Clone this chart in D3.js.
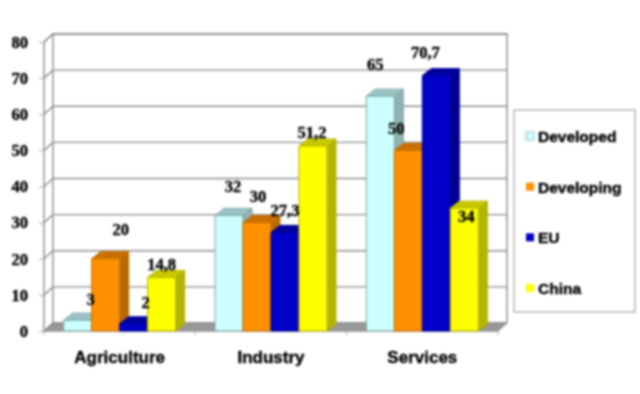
<!DOCTYPE html>
<html>
<head>
<meta charset="utf-8">
<script src="https://cdn.jsdelivr.net/npm/d3@7"></script>
<style>
    html, body { margin: 0; padding: 0; background: white; }
    svg { display: block; filter: blur(0.8px); }
    text { fill: #000; stroke: #000; stroke-width: 0.4px; }
</style>
</head>
<body>
<div id="chart"></div>
<script>
const categories = ["Agriculture", "Industry", "Services"];
const seriesNames = ["Developed", "Developing", "EU", "China"];
const developed = [3, 32, 65];
const developing = [20, 30, 50];
const eu = [2, 27.3, 70.7];
const china = [14.8, 51.2, 34];
const yTicks = [0, 10, 20, 30, 40, 50, 60, 70, 80];

const seriesValues = [developed, developing, eu, china];

// front, top, side
const colors = [
    ["#ccffff", "#9cc4c4", "#8fb2b2"],
    ["#ff9000", "#c87000", "#b86800"],
    ["#0000c8", "#00009c", "#000090"],
    ["#ffff00", "#c8c800", "#b4b400"]
];
const edgeColors = ["#7da5a5", "#c87000", "#00009c", "#b4b400"];

const depthX = 9, depthY = -8;
const barDepthY = -7;

let svg = d3.select("#chart").append("svg").attr("width", 640).attr("height", 394);

let y = d3.scaleLinear().domain([0, 80]).range([331, 42]);
let x0 = d3.scaleBand().domain(categories).range([44, 498]).paddingInner(0.26).paddingOuter(0.13);
let x1 = d3.scaleBand().domain(seriesNames).range([0, x0.bandwidth()]);

let plotLeft = x0.range()[0], plotRight = x0.range()[1];
let top80 = y(80), base = y(0);
const WALL = "#8c8c8c";

/* walls and floor */
let wallPath = `M ${plotLeft} ${top80} l ${depthX} ${depthY} H ${plotRight + depthX} V ${base + depthY} M ${plotLeft + depthX} ${top80 + depthY} V ${base + depthY} M ${plotLeft} ${top80} V ${base}`;
svg.append("path")
    .attr("d", `M ${plotLeft} ${base} l ${depthX} ${depthY} H ${plotRight + depthX} l ${-depthX} ${-depthY} Z`)
    .attr("fill", "#999999")
    .attr("stroke", WALL);
svg.append("path").attr("d", wallPath).attr("fill", "none").attr("stroke", WALL).attr("stroke-width", 1.4);

svg.append("g").selectAll("path")
    .data(yTicks)
    .join("path")
    .attr("d", d => `M ${plotLeft} ${y(d)} l ${depthX} ${depthY} H ${plotRight + depthX}`)
    .attr("fill", "none")
    .attr("stroke", WALL)
    .attr("stroke-width", 1.4);

/* axes */
let yAxis = svg.append("g")
    .attr("transform", `translate(${plotLeft},0)`)
    .call(d3.axisLeft(y).tickValues(yTicks).tickSize(5).tickPadding(11));
yAxis.select(".domain").remove();
yAxis.selectAll("line").attr("stroke", "#aaaaaa");
yAxis.selectAll("text")
    .attr("font-family", "'Liberation Serif', serif")
    .attr("font-weight", "bold")
    .attr("font-size", 16.5);

let xAxis = svg.append("g")
    .attr("transform", `translate(0,${base})`)
    .call(d3.axisBottom(x0).tickSize(0).tickPadding(20));
xAxis.select(".domain").attr("stroke", "#aaaaaa");
xAxis.selectAll("text")
    .attr("font-family", "'Liberation Sans', sans-serif")
    .attr("font-weight", "bold")
    .attr("font-size", 17);

// ticks sit between the groups, not under them
svg.append("g").selectAll("line")
    .data(d3.range(categories.length + 1))
    .join("line")
    .attr("x1", i => plotLeft + i * x0.step())
    .attr("x2", i => plotLeft + i * x0.step())
    .attr("y1", base)
    .attr("y2", base + 4)
    .attr("stroke", "#aaaaaa");

/* bars */
categories.forEach((cat, c) => {
    seriesNames.forEach((name, s) => {
        let v = seriesValues[s][c];
        let left = x0(cat) + x1(name);
        let w = x1.bandwidth();
        let topY = y(v);
        let g = svg.append("g")
            .attr("stroke", edgeColors[s])
            .attr("stroke-width", 1)
            .attr("stroke-linejoin", "round");
        g.append("path")
            .attr("d", `M ${left + w} ${topY} l ${depthX} ${barDepthY} V ${base + barDepthY} l ${-depthX} ${-barDepthY} Z`)
            .attr("fill", colors[s][2]);
        g.append("path")
            .attr("d", `M ${left} ${topY} l ${depthX} ${barDepthY} h ${w} l ${-depthX} ${-barDepthY} Z`)
            .attr("fill", colors[s][1]);
        g.append("rect")
            .attr("x", left)
            .attr("y", topY)
            .attr("width", w)
            .attr("height", base - topY)
            .attr("fill", colors[s][0]);
    });
});

/* data labels: hand placed in the original, so nudged from each bar's top centre */
const labelNudge = [
    [[13, -15], [15, -24], [12, -16], [0, -8]],
    [[4, -23], [1, -21], [0, -16], [-1, -8]],
    [[-5, -26], [-12, -16], [-11, -18], [2, 14]]
];
categories.forEach((cat, c) => {
    seriesNames.forEach((name, s) => {
        let v = seriesValues[s][c];
        svg.append("text")
            .attr("x", x0(cat) + x1(name) + x1.bandwidth() / 2 + labelNudge[c][s][0])
            .attr("y", y(v) + labelNudge[c][s][1])
            .attr("text-anchor", "middle")
            .attr("font-family", "'Liberation Serif', serif")
            .attr("font-weight", "bold")
            .attr("font-size", 16.5)
            .text(String(v).replace(".", ","));
    });
});

/* legend */
let legend = svg.append("g");
legend.append("rect")
    .attr("x", 514).attr("y", 110)
    .attr("width", 121).attr("height", 202)
    .attr("fill", "white")
    .attr("stroke", "#b0b0b0")
    .attr("stroke-width", 1.4);

let legendY = d3.scalePoint().domain(seriesNames).range([136, 288]);
seriesNames.forEach((name, s) => {
    legend.append("rect")
        .attr("x", 526).attr("y", legendY(name) - 4)
        .attr("width", 8).attr("height", 8)
        .attr("fill", colors[s][0])
        .attr("stroke", s == 0 ? "#9cc4c4" : "none");
    legend.append("text")
        .attr("x", 538).attr("y", legendY(name) + 6)
        .attr("font-family", "'Liberation Sans', sans-serif")
        .attr("font-weight", "bold")
        .attr("font-size", 15.5)
        .text(name);
});
</script>
</body>
</html>
